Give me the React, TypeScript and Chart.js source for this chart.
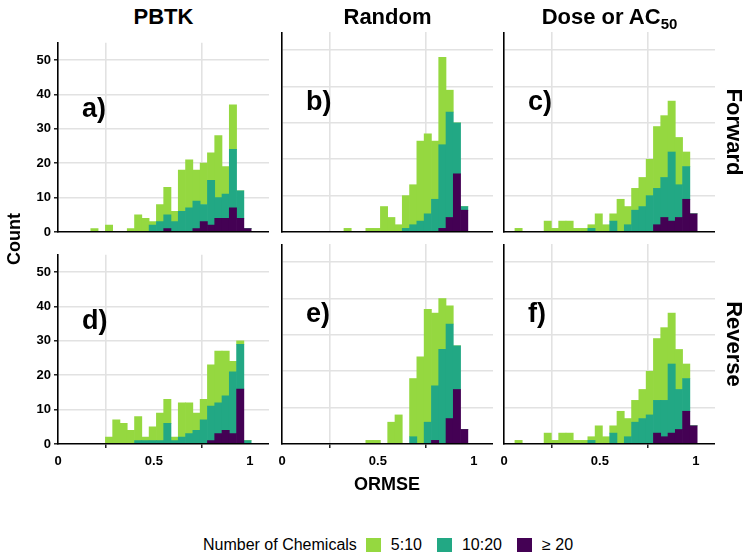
import React, { useEffect, useRef } from 'react';
import { Chart, registerables } from 'chart.js';
Chart.register(...registerables);

// ---------- data ----------
const binCenters = [0.076, 0.114, 0.152, 0.19, 0.228, 0.266, 0.304, 0.342, 0.38, 0.418, 0.456, 0.494, 0.532, 0.57, 0.608, 0.646, 0.684, 0.722, 0.76, 0.798, 0.836, 0.874, 0.912, 0.95, 0.988];
const methods = ['PBTK', 'Random', 'Dose or AC'];
const directions = ['Forward', 'Reverse'];
const panelLetters = ['a)', 'b)', 'c)', 'd)', 'e)', 'f)'];
const groupLabels = ['5:10', '10:20', '≥ 20'];
const xTickValues = [0, 0.5, 1];
const yTickValues = [0, 10, 20, 30, 40, 50];

// counts per bin for each group (5:10 = low, 10:20 = mid, >= 20 = high)
const pbtkFwdLow = [0, 0, 0, 1, 0, 2, 0, 0, 1, 5, 4, 1, 5, 8, 3, 12, 14, 9, 12, 8, 18, 8, 13, 0, 0];
const pbtkFwdMid = [0, 0, 0, 0, 0, 0, 0, 0, 0, 0, 0, 2, 3, 4, 3, 6, 7, 8, 5, 13, 6, 7, 17, 8, 0];
const pbtkFwdHigh = [0, 0, 0, 0, 0, 0, 0, 0, 0, 0, 0, 0, 0, 1, 0, 0, 0, 1, 3, 2, 4, 4, 7, 4, 1];

const randFwdLow = [0, 0, 0, 0, 0, 0, 0, 1, 0, 0, 1, 1, 7, 4, 2, 9, 11, 22, 22, 16, 24, 6, 0, 0, 0];
const randFwdMid = [0, 0, 0, 0, 0, 0, 0, 0, 0, 0, 0, 0, 0, 0, 0, 1, 2, 3, 5, 9, 23, 29, 14, 1, 0];
const randFwdHigh = [0, 0, 0, 0, 0, 0, 0, 0, 0, 0, 0, 0, 0, 0, 0, 0, 0, 0, 0, 0, 1, 4, 16, 6, 0];

const doseFwdLow = [1, 0, 0, 0, 3, 1, 3, 3, 1, 1, 1, 5, 2, 2, 9, 5, 6, 8, 10, 17, 17, 14, 13, 4, 0];
const doseFwdMid = [0, 0, 0, 0, 0, 0, 0, 0, 0, 0, 1, 0, 0, 3, 0, 2, 6, 7, 10, 10, 11, 19, 9, 9, 0];
const doseFwdHigh = [0, 0, 0, 0, 0, 0, 0, 0, 0, 0, 0, 0, 0, 0, 0, 0, 0, 0, 0, 2, 4, 3, 4, 9, 5];

const pbtkRevLow = [0, 0, 0, 0, 0, 2, 7, 6, 4, 7, 1, 4, 8, 7, 1, 10, 9, 5, 6, 12, 15, 13, 3, 1, 0];
const pbtkRevMid = [0, 0, 0, 0, 0, 0, 0, 0, 0, 1, 1, 1, 1, 6, 1, 2, 3, 4, 7, 10, 9, 10, 18, 13, 1];
const pbtkRevHigh = [0, 0, 0, 0, 0, 0, 0, 0, 0, 0, 0, 0, 0, 0, 0, 0, 0, 0, 0, 1, 3, 4, 3, 16, 0];

const randRevLow = [0, 0, 0, 0, 0, 0, 0, 0, 0, 0, 1, 1, 0, 6, 8, 0, 16, 24, 31, 20, 14, 5, 0, 0, 0];
const randRevMid = [0, 0, 0, 0, 0, 0, 0, 0, 0, 0, 0, 0, 0, 0, 0, 0, 2, 0, 6, 15, 26, 26, 12, 0, 0];
const randRevHigh = [0, 0, 0, 0, 0, 0, 0, 0, 0, 0, 0, 0, 0, 0, 0, 0, 0, 0, 0, 1, 0, 7, 15, 4, 0];

const doseRevLow = [1, 0, 0, 0, 3, 1, 3, 3, 1, 1, 1, 5, 2, 2, 9, 5, 6, 8, 12, 17, 20, 14, 11, 4, 0];
const doseRevMid = [0, 0, 0, 0, 0, 0, 0, 0, 0, 0, 1, 0, 0, 3, 0, 2, 6, 7, 8, 9, 10, 19, 11, 9, 0];
const doseRevHigh = [0, 0, 0, 0, 0, 0, 0, 0, 0, 0, 0, 0, 0, 0, 0, 0, 0, 0, 0, 3, 2, 3, 4, 9, 5];

// ---------- styles ----------
const FONT = '"Liberation Sans", Arial, Helvetica, sans-serif';
const LOW_COLOR = '#95D840';
const MID_COLOR = '#22A884';
const HIGH_COLOR = '#440154';
const GRID_COLOR = '#E2E2E2';

const PANEL_LEFT = [58, 282, 504];
const PANEL_TOP = [32, 244];
const PANEL_W = 211;
const PANEL_H = 200;
const AXIS_W = 50;
const AXIS_H = 30;

const panels = [
  { row: 0, col: 0, low: pbtkFwdLow, mid: pbtkFwdMid, high: pbtkFwdHigh },
  { row: 0, col: 1, low: randFwdLow, mid: randFwdMid, high: randFwdHigh },
  { row: 0, col: 2, low: doseFwdLow, mid: doseFwdMid, high: doseFwdHigh },
  { row: 1, col: 0, low: pbtkRevLow, mid: pbtkRevMid, high: pbtkRevHigh },
  { row: 1, col: 1, low: randRevLow, mid: randRevMid, high: randRevHigh },
  { row: 1, col: 2, low: doseRevLow, mid: doseRevMid, high: doseRevHigh },
];

const letterPlugin = {
  id: 'panelLetter',
  afterDatasetsDraw(chart: any, _args: any, opts: any) {
    const { ctx, scales } = chart;
    ctx.save();
    ctx.font = `bold 27px ${FONT}`;
    ctx.fillStyle = '#000';
    ctx.textAlign = 'left';
    ctx.textBaseline = 'alphabetic';
    ctx.fillText(opts.text, scales.x.getPixelForValue(0.125), scales.y.getPixelForValue(33.5));
    ctx.restore();
  },
};

function Panel({ spec, index }: { spec: any; index: number }) {
  const ref = useRef<HTMLCanvasElement>(null);
  const showX = spec.row === 1;
  const showY = spec.col === 0;
  useEffect(() => {
    const mk = (arr: number[]) => binCenters.map((x, i) => ({ x, y: arr[i] }));
    const chart = new Chart(ref.current as HTMLCanvasElement, {
      type: 'bar',
      data: {
        datasets: [
          { label: groupLabels[2], data: mk(spec.high), backgroundColor: HIGH_COLOR },
          { label: groupLabels[1], data: mk(spec.mid), backgroundColor: MID_COLOR },
          { label: groupLabels[0], data: mk(spec.low), backgroundColor: LOW_COLOR },
        ],
      },
      plugins: [letterPlugin],
      options: {
        animation: false,
        responsive: false,
        maintainAspectRatio: false,
        layout: { padding: 0 },
        datasets: { bar: { barPercentage: 1, categoryPercentage: 1, borderWidth: 0 } },
        plugins: {
          legend: { display: false },
          tooltip: { enabled: false },
          panelLetter: { text: panelLetters[index] },
        } as any,
        scales: {
          x: {
            type: 'linear',
            stacked: true,
            offset: false,
            min: 0,
            max: 1.1,
            afterFit: (s: any) => { s.height = AXIS_H; },
            afterBuildTicks: (s: any) => { s.ticks = xTickValues.map((v) => ({ value: v })); },
            ticks: {
              display: showX,
              color: '#000',
              padding: 6,
              maxRotation: 0,
              autoSkip: false,
              font: { family: FONT, size: 13, weight: 'bold' },
              callback: (v: any) => String(v),
            },
            grid: {
              color: (c: any) => (c.tick && c.tick.value === 0 ? 'rgba(0,0,0,0)' : GRID_COLOR),
              lineWidth: 1.6,
              drawTicks: showX,
              tickLength: 4,
              tickColor: '#000',
              tickWidth: 1.3,
            },
            border: { display: true, color: '#000', width: 1.6, z: 2 },
          },
          y: {
            type: 'linear',
            stacked: true,
            min: 0,
            max: 55,
            afterFit: (s: any) => { s.width = AXIS_W; },
            afterBuildTicks: (s: any) => { s.ticks = yTickValues.map((v) => ({ value: v })); },
            ticks: {
              display: showY,
              color: '#000',
              padding: 3,
              autoSkip: false,
              font: { family: FONT, size: 13, weight: 'bold' },
              callback: (v: any) => String(v),
            },
            grid: {
              color: (c: any) => (c.tick && c.tick.value === 0 ? 'rgba(0,0,0,0)' : GRID_COLOR),
              lineWidth: 1.6,
              drawTicks: showY,
              tickLength: 4,
              tickColor: '#000',
              tickWidth: 1.3,
            },
            border: { display: true, color: '#000', width: 1.6, z: 2 },
          },
        },
      } as any,
    });
    return () => chart.destroy();
  }, []);
  const left = PANEL_LEFT[spec.col] - AXIS_W;
  const top = PANEL_TOP[spec.row];
  return (
    <canvas
      ref={ref}
      width={AXIS_W + PANEL_W}
      height={PANEL_H + AXIS_H}
      style={{ position: 'absolute', left, top, width: AXIS_W + PANEL_W, height: PANEL_H + AXIS_H }}
    />
  );
}

const labelBase: React.CSSProperties = {
  position: 'absolute',
  fontFamily: FONT,
  color: '#000',
  whiteSpace: 'nowrap',
  lineHeight: 1,
};

export default function App() {
  return (
    <div style={{ position: 'fixed', left: 0, top: 0, width: 745, height: 552, background: '#fff', overflow: 'hidden' }}>
      {panels.map((p, i) => (
        <Panel key={i} spec={p} index={i} />
      ))}
      {methods.map((m, i) => (
        <div
          key={m}
          style={{ ...labelBase, left: PANEL_LEFT[i] + PANEL_W / 2, top: 17, transform: 'translate(-50%, -50%)', fontSize: 22, fontWeight: 'bold' }}
        >
          {m}
          {i === 2 ? <span style={{ fontSize: 15, position: 'relative', top: 5 }}>50</span> : null}
        </div>
      ))}
      {directions.map((d, i) => (
        <div
          key={d}
          style={{ ...labelBase, left: 734, top: PANEL_TOP[i] + PANEL_H / 2, transform: 'translate(-50%, -50%) rotate(90deg)', fontSize: 22, fontWeight: 'bold' }}
        >
          {d}
        </div>
      ))}
      <div style={{ ...labelBase, left: 14, top: 239, transform: 'translate(-50%, -50%) rotate(-90deg)', fontSize: 18, fontWeight: 'bold' }}>
        Count
      </div>
      <div style={{ ...labelBase, left: 387, top: 484, transform: 'translate(-50%, -50%)', fontSize: 18, fontWeight: 'bold' }}>
        ORMSE
      </div>
      <div style={{ ...labelBase, left: 203, top: 537, display: 'flex', alignItems: 'center', fontSize: 16, height: 16 }}>
        <span style={{ marginRight: 9 }}>Number of Chemicals</span>
        {[LOW_COLOR, MID_COLOR, HIGH_COLOR].map((c, i) => (
          <React.Fragment key={i}>
            <span style={{ display: 'inline-block', width: 15, height: 15, background: c, marginRight: 10 }} />
            <span style={{ marginRight: i < 2 ? 15 : 0 }}>{groupLabels[i]}</span>
          </React.Fragment>
        ))}
      </div>
    </div>
  );
}
